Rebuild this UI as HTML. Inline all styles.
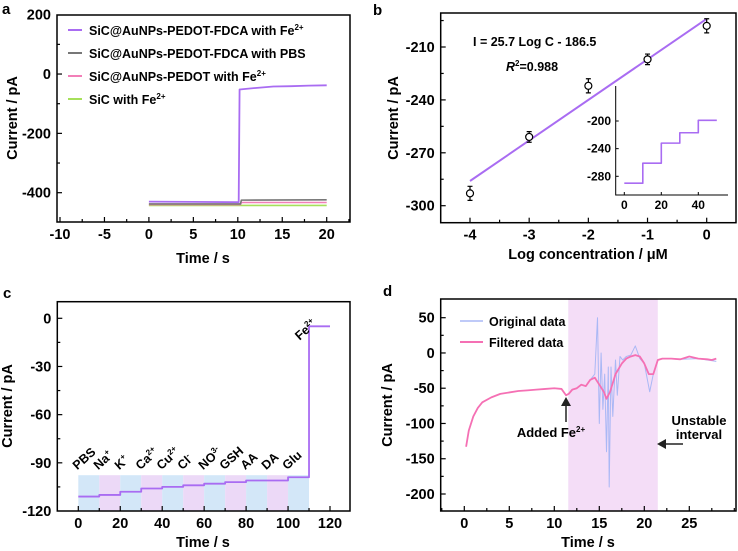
<!DOCTYPE html>
<html><head><meta charset="utf-8">
<style>
html,body{margin:0;padding:0;background:#fff;}
svg{display:block;font-family:"Liberation Sans",Arial,sans-serif;font-weight:bold;}
</style></head>
<body>
<svg id="fig" width="738" height="551" viewBox="0 0 738 551" xmlns="http://www.w3.org/2000/svg"></svg>
<script>
// ---------- Panel a data ----------
const aPurpleT = [0, 5, 10.1, 10.2, 12, 14, 16, 18, 20];
const aPurpleV = [-430, -431, -432, -52, -47, -42, -41, -39, -38];
const aGrayT = [0, 10.3, 10.4, 20];
const aGrayV = [-438, -438, -425, -424];
const aPinkT = [0, 10.3, 10.4, 20];
const aPinkV = [-440, -440, -433, -433];
const aGreenT = [0, 20];
const aGreenV = [-443, -443];
const aLegend = ["SiC@AuNPs-PEDOT-FDCA with Fe", "SiC@AuNPs-PEDOT-FDCA with PBS", "SiC@AuNPs-PEDOT with Fe", "SiC with Fe"];
const aXTicks = [-10, -5, 0, 5, 10, 15, 20];
const aYTicks = [-400, -200, 0, 200];
// ---------- Panel b data ----------
const bLogC = [-4, -3, -2, -1, 0];
const bCurrent = [-293, -261, -232, -217, -198];
const bErr = [4, 3, 4, 3, 4];
const bSlope = 23.0;
const bIntercept = -194.0;
const bXTicks = [-4, -3, -2, -1, 0];
const bYTicks = [-300, -270, -240, -210];
const bInsetT = [0, 10, 10, 20, 20, 30, 30, 40, 40, 50];
const bInsetV = [-290, -290, -261, -261, -232, -232, -217, -217, -199, -199];
const bInsetXTicks = [0, 20, 40];
const bInsetYTicks = [-280, -240, -200];
// ---------- Panel c data ----------
const cSpecies = ["PBS", "Na", "K", "Ca", "Cu", "Cl", "NO", "GSH", "AA", "DA", "Glu"];
const cSup = ["", "+", "+", "2+", "2+", "-", "3-", "", "", "", ""];
const cLevels = [-111, -110, -108, -106, -105, -104, -103, -102, -101, -101, -99];
const cFeLevel = -5;
const cXTicks = [0, 20, 40, 60, 80, 100, 120];
const cYTicks = [-120, -90, -60, -30, 0];
// ---------- Panel d data ----------
const dFiltT = [0.2,0.5,1,1.5,2,3,4,5,6,7,8,9,10,10.8,11.3,11.6,12,12.5,13,13.5,14,14.5,15,15.5,15.8,16.2,16.8,17.5,18,18.5,19,19.5,20,20.5,21,21.5,22,23,24,25,26,27,27.5,28];
const dFiltV = [-133,-110,-90,-78,-70,-63,-58,-56,-54,-53,-52,-51,-50,-51,-60,-58,-52,-50,-45,-47,-38,-35,-45,-55,-65,-55,-30,-15,-8,-5,-3,-5,-15,-30,-30,-10,-8,-8,-9,-5,-8,-9,-10,-8];
const dOrigT = [11.6,12,12.5,13,13.5,14,14.5,14.8,15,15.2,15.4,15.6,15.8,16,16.1,16.3,16.5,16.8,17,17.3,17.6,18,18.5,19,19.5,20,20.3,20.6,21,21.5,22,24,26,28];
const dOrigV = [-58,-52,-50,-45,-47,-38,-30,50,-100,0,-80,-30,-140,-20,-190,-20,-90,-10,-60,-5,-10,-5,-3,10,-8,-15,-35,-55,-30,-10,-8,-9,-8,-12];
const dXTicks = [0, 5, 10, 15, 20, 25];
const dYTicks = [-200, -150, -100, -50, 0, 50];
const dShade = [11.55, 21.5];

const NS = "http://www.w3.org/2000/svg";
const fig = document.getElementById("fig");
function mk(tag, attrs, parent) {
  const el = document.createElementNS(NS, tag);
  for (const k in attrs) el.setAttribute(k, attrs[k]);
  (parent || fig).appendChild(el);
  return el;
}
function scale(d0, d1, r0, r1) { return v => r0 + (v - d0) / (d1 - d0) * (r1 - r0); }
function pathD(xs, ys, sx, sy) { return xs.map((t, i) => (i ? "L" : "M") + sx(t).toFixed(2) + "," + sy(ys[i]).toFixed(2)).join(""); }

function axes(g, box, sx, sy, xt, yt, xMinorStep, yMinorStep, xr, yr, fs) {
  const frame = mk("rect", {x: box.l, y: box.t, width: box.r - box.l, height: box.b - box.t, fill: "none", stroke: "#000", "stroke-width": 1.5}, g);
  
  
  for (let v = xr[0]; v <= xr[1] + 1e-9; v += xMinorStep) {
    const major = xt.some(t => Math.abs(t - v) < 1e-9);
    const x = sx(v);
    if (x < box.l + 1 || x > box.r - 1) continue;
    const tk = mk("line", {x1: x, x2: x, y1: box.b, y2: box.b - (major ? 5 : 3), stroke: "#000", "stroke-width": 1.2}, g);
    
    
  }
  xt.forEach(v => {
    const lb = mk("text", {x: sx(v), y: box.b + 17, "text-anchor": "middle", "font-size": fs}, g);
    lb.textContent = v;
    
    
  });
  for (let v = yr[0]; v <= yr[1] + 1e-9; v += yMinorStep) {
    const major = yt.some(t => Math.abs(t - v) < 1e-9);
    const y = sy(v);
    if (y < box.t + 1 || y > box.b - 1) continue;
    const tk = mk("line", {x1: box.l, x2: box.l + (major ? 5 : 3), y1: y, y2: y, stroke: "#000", "stroke-width": 1.2}, g);
    
    
  }
  yt.forEach(v => {
    const lb = mk("text", {x: box.l - 6, y: sy(v) + 5, "text-anchor": "end", "font-size": fs}, g);
    lb.textContent = v;
    
    
  });
}
function txt(g, x, y, s, fs, anchor, name, extra) {
  const t = mk("text", Object.assign({x: x, y: y, "font-size": fs, "text-anchor": anchor || "start"}, extra || {}), g);
  t.innerHTML = s;
  
  
  return t;
}
function line(g, xs, ys, sx, sy, color, w, name) {
  const p = mk("path", {d: pathD(xs, ys, sx, sy), fill: "none", stroke: color, "stroke-width": w, "stroke-linejoin": "round"}, g);
  
  
  return p;
}
const TF = 14.5, AF = 14.5;

// ================= Panel a =================
const ga = mk("g", {});


const boxA = {l: 57, r: 350, t: 15, b: 222};
const axA = scale(-10, 20, 60, 326.7), ayA = scale(-400, 200, 192.7, 14.7);
axes(ga, boxA, axA, ayA, aXTicks, aYTicks, 2.5, 100, [-10, 22.5], [-500, 200], TF);
line(ga, aGreenT, aGreenV, axA, ayA, "#a6e05a", 1.6, "series-sic");
line(ga, aPinkT, aPinkV, axA, ayA, "#f27fb8", 1.6, "series-aunps-pedot");
line(ga, aGrayT, aGrayV, axA, ayA, "#777", 1.6, "series-fdca-pbs");
line(ga, aPurpleT, aPurpleV, axA, ayA, "#a96cf2", 1.8, "series-fdca-fe");
const aCols = ["#a96cf2", "#777", "#f27fb8", "#a6e05a"];
const aSups = ["2+", "", "2+", "2+"];
aLegend.forEach((s, i) => {
  const y = 30 + i * 23;
  const l = mk("line", {x1: 68, x2: 82, y1: y, y2: y, stroke: aCols[i], "stroke-width": 2}, ga);
  
  
  txt(ga, 89, y + 5, s + (aSups[i] ? '<tspan dy="-5" font-size="8">' + aSups[i] + '</tspan>' : ''), 12.5, "start", "legend-entry");
});
txt(ga, 203, 263, "Time / s", AF, "middle", "x-axis-title");
txt(ga, 0, 0, "Current / pA", AF, "middle", "y-axis-title", {transform: "translate(17,118) rotate(-90)"});
txt(ga, 2, 14, "a", 15, "start", "panel-label");

// ================= Panel b =================
const gb = mk("g", {});


const boxB = {l: 440.7, r: 736, t: 13, b: 222.7};
const bxS = scale(-4, 0, 470, 706.7), byS = scale(-300, -210, 205.7, 47);
axes(gb, boxB, bxS, byS, bXTicks, bYTicks, 0.5, 15, [-4.5, 0.5], [-315, -195], TF);
const fitX = [bLogC[0], bLogC[bLogC.length - 1]];
const fitY = fitX.map(v => bSlope * v + bIntercept);
line(gb, fitX, fitY, bxS, byS, "#a96cf2", 2, "fit-line");
bLogC.forEach((c, i) => {
  const x = bxS(c), y = bCurrent[i];
  const e = mk("path", {d: `M${x},${byS(y - bErr[i])}V${byS(y + bErr[i])}M${x - 2.5},${byS(y - bErr[i])}h5M${x - 2.5},${byS(y + bErr[i])}h5`, stroke: "#000", "stroke-width": 1.2, fill: "none"}, gb);
  
  
  const p = mk("circle", {cx: x, cy: byS(y), r: 3.5, fill: "#fff", stroke: "#000", "stroke-width": 1.2}, gb);
  
  
});
txt(gb, 473, 46, "I = 25.7 Log C - 186.5", 12.5, "start", "equation-label");
txt(gb, 506, 71, '<tspan font-style="italic">R</tspan><tspan dy="-5" font-size="8">2</tspan><tspan dy="5">=0.988</tspan>', 12.5, "start", "r-squared-label");
// inset
const ix = scale(0, 40, 624.3, 698.3), iy = scale(-280, -200, 176.3, 121);
const ins = mk("path", {d: "M615.7,86V195H728", fill: "none", stroke: "#000", "stroke-width": 1}, gb);


bInsetXTicks.forEach(v => {
  const t = mk("line", {x1: ix(v), x2: ix(v), y1: 195, y2: 192, stroke: "#000"}, gb);
  
  
  txt(gb, ix(v), 209, v, 12, "middle", "inset-x-tick-label");
});
bInsetYTicks.forEach(v => {
  const t = mk("line", {x1: 615.7, x2: 618.7, y1: iy(v), y2: iy(v), stroke: "#000"}, gb);
  
  
  txt(gb, 611, iy(v) + 4, v, 12, "end", "inset-y-tick-label");
});
line(gb, bInsetT, bInsetV, ix, iy, "#a96cf2", 1.6, "inset-series");
txt(gb, 588, 259, "Log concentration / μM", AF, "middle", "x-axis-title");
txt(gb, 0, 0, "Current / pA", AF, "middle", "y-axis-title", {transform: "translate(398,118) rotate(-90)"});
txt(gb, 373, 15, "b", 15, "start", "panel-label");

// ================= Panel c =================
const gc = mk("g", {});


const boxC = {l: 57.3, r: 350, t: 301.7, b: 511};
const cx = scale(0, 120, 78.3, 330), cy = scale(-120, 0, 511, 318.3);
cSpecies.forEach((s, i) => {
  const r = mk("rect", {x: cx(i * 10), y: cy(-97.7), width: cx(10) - cx(0), height: 511 - cy(-97.7), fill: i % 2 ? "#ecd9f7" : "#d3e7f8"}, gc);
  
  
  const lx = cx(i * 10) - 1, ly = cy(-97.7) - 5;
  txt(gc, 0, 0, s + (cSup[i] ? '<tspan dy="-5" font-size="8">' + cSup[i] + '</tspan>' : ''), 12.5, "start", "interferent-label", {transform: `translate(${lx},${ly}) rotate(-42)`});
});
axes(gc, boxC, cx, cy, cXTicks, cYTicks, 10, 15, [0, 130], [-120, 10], TF);
const cT = [], cV = [];
cLevels.forEach((v, i) => { cT.push(i * 10, i * 10 + 10); cV.push(v, v); });
cT.push(110, 120); cV.push(cFeLevel, cFeLevel);
line(gc, cT, cV, cx, cy, "#a96cf2", 1.8, "response-series");
txt(gc, 0, 0, 'Fe<tspan dy="-5" font-size="8">2+</tspan>', 12.5, "start", "fe-label", {transform: `translate(${cx(105.5)},${cy(-14)}) rotate(-42)`});
txt(gc, 203, 547, "Time / s", AF, "middle", "x-axis-title");
txt(gc, 0, 0, "Current / pA", AF, "middle", "y-axis-title", {transform: "translate(12,406) rotate(-90)"});
txt(gc, 3, 298, "c", 15, "start", "panel-label");

// ================= Panel d =================
const gd = mk("g", {});


const boxD = {l: 440.7, r: 736, t: 299, b: 511};
const dx = scale(0, 25, 464.3, 689.3), dy = scale(-200, 50, 494, 317.7);
const sh = mk("rect", {x: dx(dShade[0]), y: 299, width: dx(dShade[1]) - dx(dShade[0]), height: 212, fill: "#f4ddf7"}, gd);


axes(gd, boxD, dx, dy, dXTicks, dYTicks, 2.5, 25, [-2.5, 30], [-225, 60], TF);
line(gd, dOrigT, dOrigV, dx, dy, "#aab8f5", 1, "original-data-series");
line(gd, dFiltT, dFiltV, dx, dy, "#f570b4", 1.8, "filtered-data-series");
const lg1 = mk("line", {x1: 460, x2: 483, y1: 321, y2: 321, stroke: "#aab8f5", "stroke-width": 1.5}, gd);


const lg2 = mk("line", {x1: 460, x2: 483, y1: 342, y2: 342, stroke: "#f570b4", "stroke-width": 2}, gd);


txt(gd, 489, 326, "Original data", 12.5, "start", "legend-entry-original");
txt(gd, 489, 347, "Filtered data", 12.5, "start", "legend-entry-filtered");
const ar1 = mk("path", {d: "M566,422V404", stroke: "#222", "stroke-width": 1.5}, gd);


const ah1 = mk("path", {d: "M561,406L566,397L571,406Z", fill: "#222"}, gd);


txt(gd, 551, 437, 'Added Fe<tspan dy="-5" font-size="8">2+</tspan>', 13, "middle", "added-fe-label");
const ar2 = mk("path", {d: "M683,444H664", stroke: "#222", "stroke-width": 1.5}, gd);


const ah2 = mk("path", {d: "M666,439L657,444L666,449Z", fill: "#222"}, gd);


txt(gd, 699, 425, "Unstable", 13, "middle", "unstable-label-line1");
txt(gd, 699, 439, "interval", 13, "middle", "unstable-label-line2");
txt(gd, 588, 547, "Time / s", AF, "middle", "x-axis-title");
txt(gd, 0, 0, "Current / pA", AF, "middle", "y-axis-title", {transform: "translate(392,405) rotate(-90)"});
txt(gd, 383, 296, "d", 15, "start", "panel-label");
</script>
</body></html>
